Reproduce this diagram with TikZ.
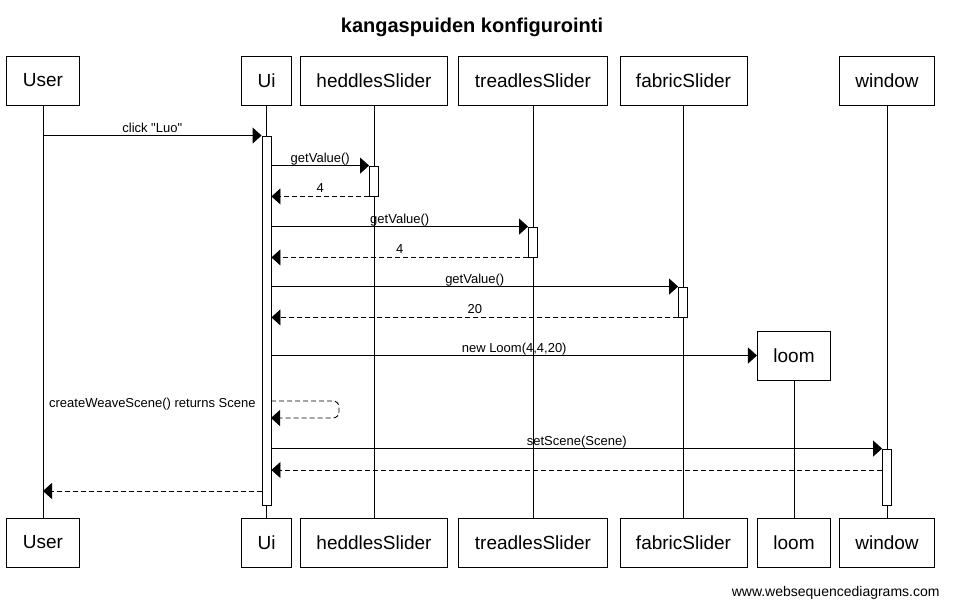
\documentclass[tikz,border=0pt]{standalone}
\usepackage{fontspec}
\setmainfont{Liberation Sans}[Ligatures=TeXOff]
\usetikzlibrary{arrows.meta, positioning, calc}

\begin{document}
\begin{tikzpicture}[
    x=1pt, y=-1pt,
    line width=0.9pt,
    >={Triangle[length=9pt, width=16pt]},
    actor/.style={draw, fill=white, minimum height=49pt, inner xsep=16pt, font=\fontsize{19}{19}\selectfont},
    bar/.style={draw, fill=white, minimum width=9pt, inner sep=0pt},
    msg/.style={->},
    reply/.style={->, dash pattern=on 5pt off 3pt},
    lbl/.style={pos=0.5, anchor=base, yshift=3.5pt, inner sep=0pt, font=\fontsize{13}{13}\selectfont}
]
    \useasboundingbox (0,0) rectangle (957,608);
    % Row heights of the participant boxes
    \def\toprow{80.5}
    \def\botrow{542.5}

    % Title
    \node[anchor=base, inner sep=0pt, font=\bfseries\fontsize{20}{20}\selectfont] (title) at (472,32) {kangaspuiden konfigurointi};

    % Participants at the top
    \node[actor] (userTop) at (43,\toprow) {User};
    \node[actor] (uiTop) at (266.5,\toprow) {Ui};
    \node[actor] (hTop) at (374,\toprow) {heddlesSlider};
    \node[actor] (tTop) at (533,\toprow) {treadlesSlider};
    \node[actor] (fTop) at (683.5,\toprow) {fabricSlider};
    \node[actor] (wTop) at (887,\toprow) {window};
    % loom is created during the sequence
    \node[actor] (loom) at (794,355.5) {loom};

    % Participants at the bottom
    \node[actor] (userBot) at (43,\botrow) {User};
    \node[actor] (uiBot) at (266.5,\botrow) {Ui};
    \node[actor] (hBot) at (374,\botrow) {heddlesSlider};
    \node[actor] (tBot) at (533,\botrow) {treadlesSlider};
    \node[actor] (fBot) at (683.5,\botrow) {fabricSlider};
    \node[actor] (loomBot) at (794,\botrow) {loom};
    \node[actor] (wBot) at (887,\botrow) {window};

    % Lifelines
    \draw (userTop) -- (userBot);
    \draw (uiTop) -- (uiBot);
    \draw (hTop) -- (hBot);
    \draw (tTop) -- (tBot);
    \draw (fTop) -- (fBot);
    \draw (loom) -- (loomBot);
    \draw (wTop) -- (wBot);

    % Activation bars
    \node[bar, minimum height=369pt] (uiBar) at (266.5,320.5) {};
    \node[bar, minimum height=30pt] (hBar) at (374,181) {};
    \node[bar, minimum height=30pt] (tBar) at (533,242) {};
    \node[bar, minimum height=30pt] (fBar) at (683,302) {};
    \node[bar, minimum height=56pt] (wBar) at (887,477) {};

    % Free ends of the later messages
    \coordinate (selfA) at (271,401);
    \coordinate (selfB) at (271,418);
    \coordinate (wRet) at (882,470);
    \coordinate (uRet) at (262,491);

    % Messages
    \path
        (userTop |- uiBar.north) edge[msg] node[lbl] {click "Luo"} (uiBar.north west)
        (uiBar.east |- hBar.north) edge[msg] node[lbl] {getValue()} (hBar.north west)
        (hBar.south west) edge[reply] node[lbl] {4} (uiBar.east |- hBar.south)
        (uiBar.east |- tBar.north) edge[msg] node[lbl] {getValue()} (tBar.north west)
        (tBar.south west) edge[reply] node[lbl] {4} (uiBar.east |- tBar.south)
        (uiBar.east |- fBar.north) edge[msg] node[lbl] {getValue()} (fBar.north west)
        (fBar.south west) edge[reply] node[lbl] {20} (uiBar.east |- fBar.south)
        (uiBar.east |- loom.west) edge[msg] node[lbl] {new Loom(4,4,20)} (loom.west)
        (uiBar.east |- wBar.north) edge[msg] node[lbl] {setScene(Scene)} (wBar.north west)
        (wRet) edge[reply] (uiBar.east |- wRet)
        (uRet) edge[reply] (userTop |- uRet);

    % Self call on Ui
    \draw[reply, rounded corners=6pt] (selfA)
        node[anchor=base east, xshift=-15pt, yshift=-6pt, inner sep=0pt, font=\fontsize{13}{13}\selectfont] (selfLbl) {createWeaveScene() returns Scene}
        -- ++(68,0) -- ++(0,17) -- (selfB);

    % Footer
    \node[anchor=base east, inner sep=0pt, font=\fontsize{14}{14}\selectfont] (credit) at (940,596) {www.websequencediagrams.com};
\end{tikzpicture}
\end{document}
